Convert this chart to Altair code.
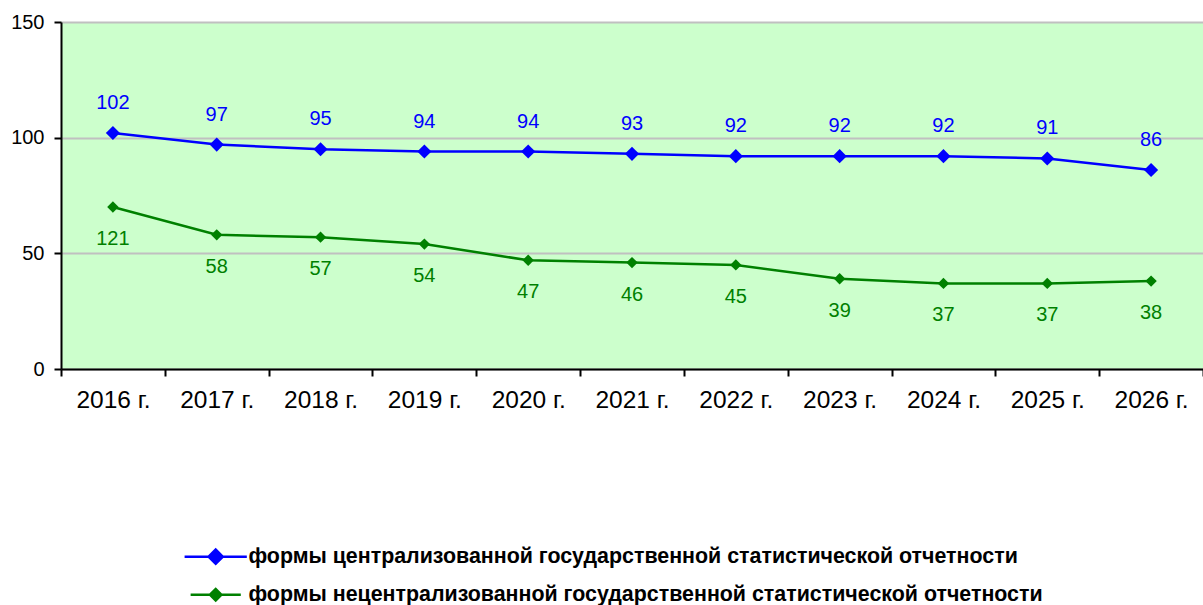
import altair as alt
import pandas as pd

years = ["2016 г.", "2017 г.", "2018 г.", "2019 г.", "2020 г.", "2021 г.",
         "2022 г.", "2023 г.", "2024 г.", "2025 г.", "2026 г."]
central = [102, 97, 95, 94, 94, 93, 92, 92, 92, 91, 86]
central_labels = ["102", "97", "95", "94", "94", "93", "92", "92", "92", "91", "86"]
noncentral = [70, 58, 57, 54, 47, 46, 45, 39, 37, 37, 38]
noncentral_labels = ["121", "58", "57", "54", "47", "46", "45", "39", "37", "37", "38"]
series_names = [
    "формы централизованной государственной статистической отчетности",
    "формы нецентрализованной государственной статистической отчетности",
]
colors = ["#0000FF", "#008000"]

rows = []
for y, v, l in zip(years, central, central_labels):
    rows.append({"year": y, "value": v, "label": l, "series": series_names[0]})
for y, v, l in zip(years, noncentral, noncentral_labels):
    rows.append({"year": y, "value": v, "label": l, "series": series_names[1]})
df = pd.DataFrame(rows)

FONT = "Liberation Sans"

x = alt.X("year:N", sort=years, title=None,
          scale=alt.Scale(paddingInner=0, paddingOuter=0),
          axis=alt.Axis(labelAngle=0, labelFontSize=24.5, labelFont=FONT, labelColor="#000",
                        tickBand="extent", tickSize=7, tickWidth=2, tickColor="#000",
                        domainColor="#000", domainWidth=2, labelPadding=12, grid=False))
y = alt.Y("value:Q", title=None,
          scale=alt.Scale(domain=[0, 150], nice=False),
          axis=alt.Axis(values=[0, 50, 100, 150], labelFontSize=20, labelFont=FONT,
                        labelColor="#000", tickSize=7, tickWidth=2, tickColor="#000",
                        domainColor="#000", domainWidth=2, labelPadding=10,
                        gridColor="#C0C0C0", gridWidth=2))
color_scale = alt.Scale(domain=series_names, range=colors)

legend_path = "M-4.4,0H4.4M-1,0L0,-1L1,0L0,1Z"
legend = alt.Legend(orient="none", legendX=144, legendY=524, title=None,
                    symbolType=legend_path, symbolSize=144,
                    symbolStrokeWidth=2.5, symbolOpacity=1,
                    labelFont=FONT, labelFontSize=21.4,
                    labelFontWeight="bold", labelColor="#000",
                    labelOffset=22, rowPadding=14, padding=0,
                    labelLimit=1000)

base = alt.Chart(df)

lines = base.mark_line(strokeWidth=2.5).encode(
    x=x, y=y, color=alt.Color("series:N", scale=color_scale, legend=legend))

points = base.mark_point(filled=True, shape="diamond", opacity=1).encode(
    x=x, y=y,
    color=alt.Color("series:N", scale=color_scale, legend=legend),
    size=alt.Size("series:N", scale=alt.Scale(domain=series_names, range=[200, 130]), legend=None),
)

text_c = base.transform_filter(alt.datum.series == series_names[0]).mark_text(
    dy=-30, fontSize=20, font=FONT, color=colors[0]).encode(x=x, y=y, text="label:N")
text_n = base.transform_filter(alt.datum.series == series_names[1]).mark_text(
    dy=32, fontSize=20, font=FONT, color=colors[1]).encode(x=x, y=y, text="label:N")

chart = alt.layer(lines, points, text_c, text_n).properties(
    width=1142, height=347,
    autosize=alt.AutoSizeParams(type="none"),
    padding={"left": 61, "top": 22, "right": 0, "bottom": 236},
).configure(background="#FFFFFF").configure_view(fill="#CCFFCC", stroke=None)

chart.save("out.html", embed_options={"renderer": "svg", "actions": False})
